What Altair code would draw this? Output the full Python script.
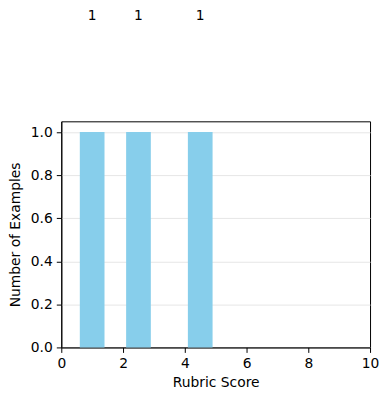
import altair as alt
import pandas as pd

scores = [1.0, 2.5, 4.5]
counts = [1, 1, 1]
bar_width = 0.8

x_ticks = [0, 2, 4, 6, 8, 10]
y_ticks = [0.0, 0.2, 0.4, 0.6, 0.8, 1.0]

df = pd.DataFrame({"score": scores, "count": counts})

FONT = "DejaVu Sans"
FS = 13.9

base = alt.Chart(df).transform_calculate(
    x0=f"datum.score - {bar_width / 2}",
    x1=f"datum.score + {bar_width / 2}",
    base0="0",
)

xscale = alt.Scale(domain=[0, 10], nice=False, zero=False, padding=0)
yscale = alt.Scale(domain=[0, 1.05], nice=False, padding=0)

bars = base.mark_bar(color="#87CEEB", orient="vertical").encode(
    x=alt.X(
        "x0:Q",
        scale=xscale,
        axis=alt.Axis(
            values=x_ticks,
            title="Rubric Score",
            grid=False,
            format="d",
        ),
    ),
    x2="x1:Q",
    y=alt.Y(
        "count:Q",
        scale=yscale,
        axis=alt.Axis(
            values=y_ticks,
            title="Number of Examples",
            format=".1f",
            grid=True,
        ),
    ),
    y2="base0:Q",
)

labels = base.mark_text(
    font=FONT, fontSize=FS, color="black", baseline="alphabetic", dy=-112.5
).encode(
    x=alt.X("score:Q", scale=xscale),
    y=alt.Y("count:Q", scale=yscale),
    text=alt.Text("count:Q", format="d"),
)

chart = (
    alt.layer(bars, labels)
    .properties(
        width=310,
        height=227,
        autosize=alt.AutoSizeParams(type="none"),
        padding={"left": 53.5, "top": 113, "right": 12, "bottom": 45},
    )
    .configure_view(stroke="black", strokeWidth=1)
    .configure_axis(
        labelFont=FONT,
        titleFont=FONT,
        labelFontSize=FS,
        titleFontSize=FS,
        titleFontWeight="normal",
        labelColor="black",
        titleColor="black",
        domainColor="black",
        tickColor="black",
        tickSize=5,
        labelPadding=4,
        gridColor="#e6e6e6",
        gridWidth=1,
    )
    .configure_axisX(titlePadding=5, labelFlush=False)
    .configure_axisY(titlePadding=8)
)

chart.save("out.html", embed_options={"renderer": "svg", "actions": False})
